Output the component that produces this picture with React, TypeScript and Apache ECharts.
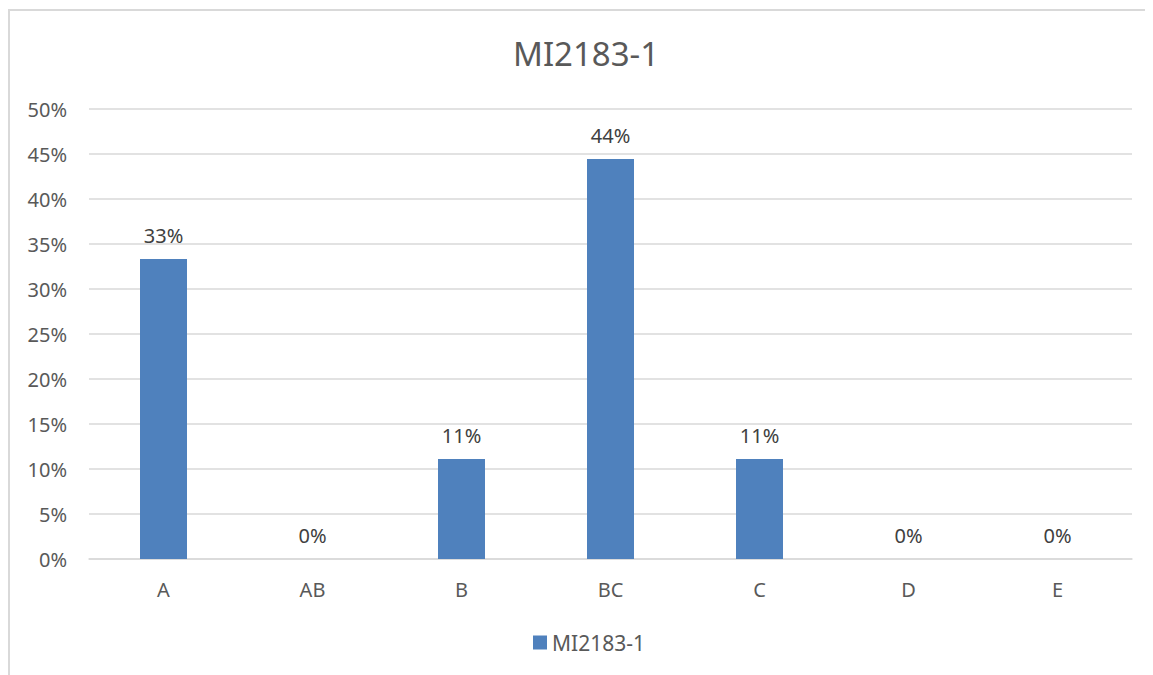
import React, { useEffect, useRef } from "react";
import * as echarts from "echarts";

const categories = ["A", "AB", "B", "BC", "C", "D", "E"];
const seriesName = "MI2183-1";
const values = [0.3333, 0, 0.1111, 0.4444, 0.1111, 0, 0];
const titleText = "MI2183-1";

export default function App() {
  const ref = useRef<HTMLDivElement>(null);
  useEffect(() => {
    if (!ref.current) return;
    const chart = echarts.init(ref.current, null, { renderer: "svg" });
    const font = "Noto Sans";
    chart.setOption({
      animation: false,
      backgroundColor: "#ffffff",
      title: {
        text: titleText,
        left: 500,
        top: 24,
        textStyle: { fontFamily: font, fontSize: 33, fontWeight: "normal", color: "#595959" },
      },
      legend: {
        bottom: 17,
        left: 520,
        itemWidth: 14,
        itemHeight: 14,
        icon: "rect",
        itemGap: 6,
        textStyle: { fontFamily: font, fontSize: 21, color: "#595959" },
        data: [seriesName],
      },
      grid: { left: 81, right: 21, top: 101, bottom: 116 },
      xAxis: {
        type: "category",
        data: categories,
        axisLine: { lineStyle: { color: "#d9d9d9", width: 1.5 } },
        axisTick: { show: false },
        axisLabel: { fontFamily: font, fontSize: 20, color: "#595959", margin: 20 },
      },
      yAxis: {
        type: "value",
        min: 0,
        max: 0.5,
        interval: 0.05,
        axisLine: { show: false },
        axisTick: { show: false },
        splitLine: { lineStyle: { color: "#d9d9d9", width: 1.5 } },
        axisLabel: {
          fontFamily: font,
          fontSize: 20,
          color: "#595959",
          margin: 22,
          formatter: (v: number) => Math.round(v * 100) + "%",
        },
      },
      series: [
        {
          name: seriesName,
          type: "bar",
          data: values,
          barWidth: 47,
          itemStyle: { color: "#4f81bd" },
          label: {
            show: true,
            position: "top",
            distance: 14,
            fontFamily: font,
            fontSize: 20,
            color: "#404040",
            formatter: (p: any) => Math.round(p.value * 100) + "%",
          },
        },
      ],
    });
    return () => chart.dispose();
  }, []);
  return (
    <div style={{ position: "relative", width: 1145, height: 667 }}>
      <div ref={ref} style={{ width: 1145, height: 667 }} />
      <div
        style={{
          position: "absolute",
          left: 0,
          top: 1,
          width: 1145,
          height: 666,
          borderTop: "2px solid #d9d9d9",
          borderLeft: "2px solid #d9d9d9",
          borderRight: "2px solid #d9d9d9",
          boxSizing: "border-box",
          pointerEvents: "none",
        }}
      />
    </div>
  );
}
